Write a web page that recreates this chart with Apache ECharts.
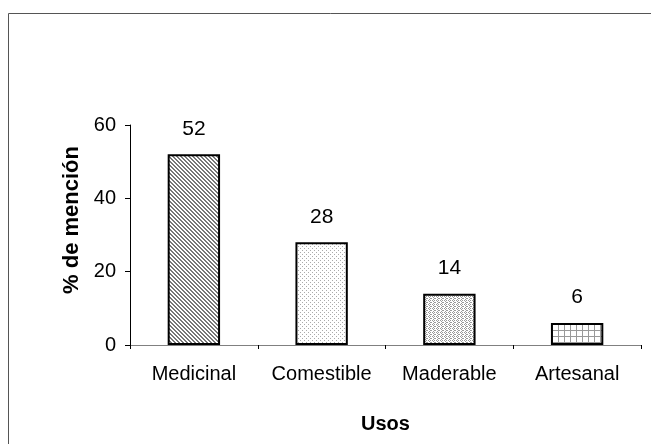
<!DOCTYPE html>
<html><head><meta charset="utf-8">
<script src="https://cdn.jsdelivr.net/npm/echarts@6/dist/echarts.min.js"></script>
<style>html,body{margin:0;padding:0;background:#fff}#c{width:651px;height:444px}</style>
</head><body><div id="c"></div>
<script>
const categories = ['Medicinal', 'Comestible', 'Maderable', 'Artesanal'];
const values = [52, 28, 14, 6];
const yTicks = [0, 20, 40, 60];

function pat(kind) {
  const c = document.createElement('canvas');
  const s = kind === 'grid' ? 6 : 4;
  c.width = s; c.height = s;
  const g = c.getContext('2d');
  g.fillStyle = '#fff'; g.fillRect(0, 0, s, s);
  if (kind === 'diag') {
    g.fillStyle = '#777';
    for (let i = 0; i < s; i++) { g.fillRect(i, i, 1, 1); g.fillRect((i + 1) % s, i, 1, 1); }
  } else if (kind === 'dots') {
    g.fillStyle = '#aaa';
    g.fillRect(0, 0, 1, 1); g.fillRect(2, 2, 1, 1);
  } else if (kind === 'dense') {
    g.fillStyle = '#999';
    g.fillRect(0, 0, 1, 1); g.fillRect(1, 1, 1, 1); g.fillRect(2, 0, 1, 1); g.fillRect(3, 2, 1, 1); g.fillRect(1, 3, 1, 1); g.fillRect(2, 2, 1, 1);
  } else if (kind === 'grid') {
    g.fillStyle = '#999';
    g.fillRect(0, 0, s, 1); g.fillRect(0, 0, 1, s);
  }
  return { image: c, repeat: 'repeat' };
}
const pats = [pat('diag'), pat('dots'), pat('dense'), pat('grid')];

const chart = echarts.init(document.getElementById('c'));
chart.setOption({
  animation: false,
  graphic: [{ type: 'rect', shape: { x: 8.5, y: 13.5, width: 700, height: 500 }, style: { fill: 'none', stroke: '#555', lineWidth: 1 }, silent: true }],
  grid: { left: 130, right: 10, top: 125, bottom: 99 },
  xAxis: {
    type: 'category', data: categories,
    name: 'Usos', nameLocation: 'middle', nameGap: 69,
    nameTextStyle: { fontFamily: 'Liberation Sans', fontSize: 20, fontWeight: 'bold', color: '#000' },
    axisLine: { lineStyle: { color: '#808080', width: 1 } },
    axisTick: { show: true, length: 4, lineStyle: { color: '#000' } },
    axisLabel: { interval: 0, fontFamily: 'Liberation Sans', fontSize: 20, color: '#000', margin: 19 }
  },
  yAxis: {
    type: 'value', min: 0, max: 60, interval: 20,
    name: '% de mención', nameLocation: 'middle', nameGap: 46,
    nameTextStyle: { fontFamily: 'Liberation Sans', fontSize: 22, fontWeight: 'bold', color: '#000', padding: [0, 0, 0, 30] },
    axisLine: { show: true, lineStyle: { color: '#000', width: 1 } },
    axisTick: { show: true, length: 5, lineStyle: { color: '#000' } },
    axisLabel: { fontFamily: 'Liberation Sans', fontSize: 20, color: '#000', margin: 14,
      formatter: v => yTicks.includes(v) ? String(v) : '' },
    splitLine: { show: false }
  },
  series: [{
    type: 'bar', barWidth: '41%',
    data: values.map((v, i) => ({ value: v, itemStyle: { color: pats[i] } })),
    itemStyle: { borderColor: '#000', borderWidth: 2 },
    label: { show: true, position: 'top', distance: 15, fontFamily: 'Liberation Sans', fontSize: 21, color: '#000' }
  }]
});
</script></body></html>
